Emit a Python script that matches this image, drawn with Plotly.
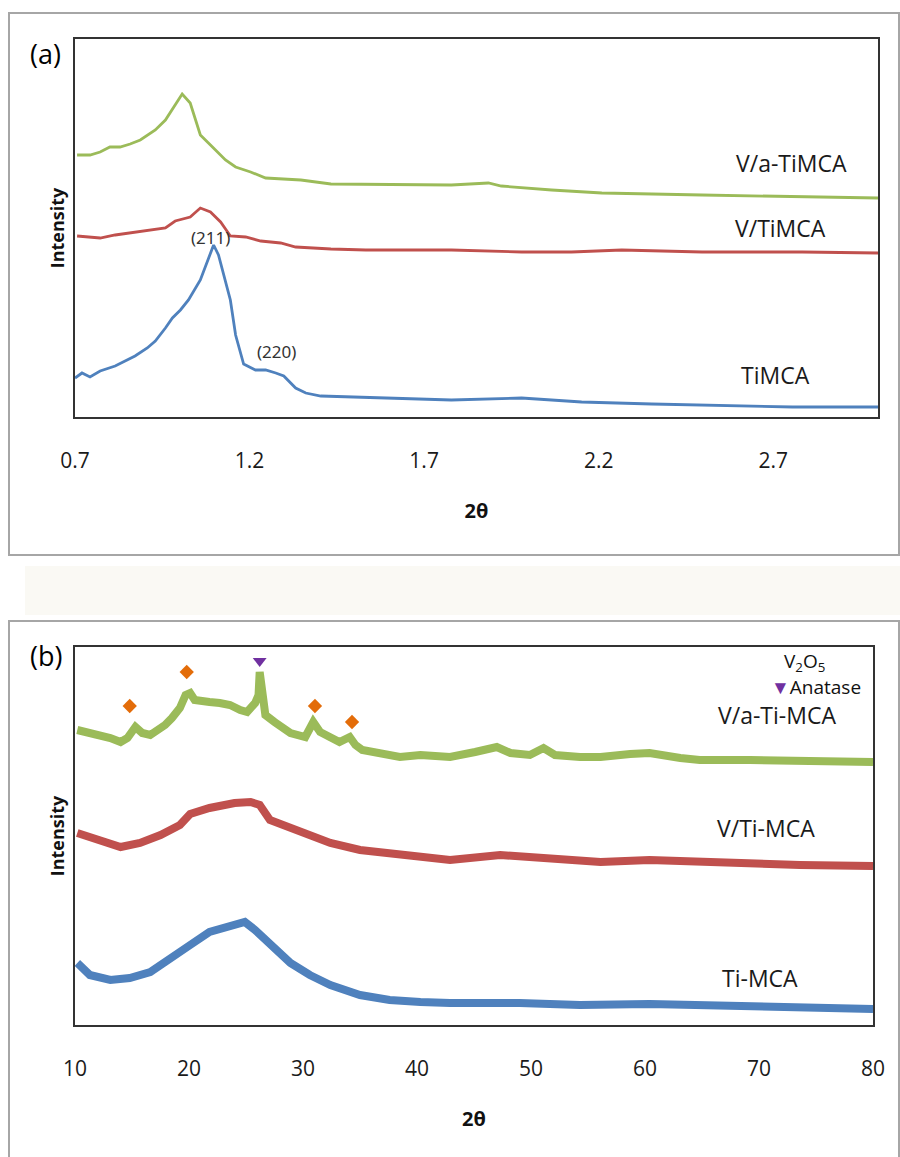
import plotly.graph_objects as go

# ---------------- Panel (a): low-angle XRD ----------------
a_green_x = [0.706, 0.743, 0.772, 0.80, 0.829, 0.858, 0.887, 0.93, 0.959, 0.987, 1.007, 1.03, 1.059, 1.088,
             1.131, 1.16, 1.203, 1.246, 1.347, 1.433, 1.634, 1.778, 1.884, 1.921, 2.065, 2.209, 2.496, 2.783, 3.0]
a_green_y = [262, 262, 265, 270, 270, 273, 277, 287, 297, 312, 323, 314, 282, 272,
             257, 250, 245, 239, 237, 233, 232, 232, 234, 231, 227, 224, 222, 220, 219]

a_red_x = [0.706, 0.743, 0.772, 0.815, 0.858, 0.916, 0.959, 0.987, 1.03, 1.059, 1.088, 1.117, 1.145, 1.189,
           1.232, 1.289, 1.332, 1.433, 1.533, 1.778, 1.979, 2.122, 2.266, 2.496, 2.783, 3.0]
a_red_y = [181, 180, 179, 182, 184, 187, 189, 196, 200, 209, 205, 195, 181, 180,
           176, 174, 170, 168, 167, 167, 165, 165, 167, 165, 165, 164]

a_blue_x = [0.7, 0.72, 0.743, 0.772, 0.815, 0.844, 0.872, 0.907, 0.93, 0.959, 0.979, 1.002, 1.025, 1.059,
            1.079, 1.097, 1.111, 1.131, 1.145, 1.16, 1.183, 1.217, 1.246, 1.275, 1.298, 1.332, 1.361,
            1.404, 1.49, 1.634, 1.778, 1.979, 2.151, 2.352, 2.496, 2.755, 3.0]
a_blue_y = [39, 44, 40, 46, 51, 56, 61, 69, 76, 89, 99, 107, 117, 137,
            155, 172, 162, 137, 117, 82, 53, 47, 47, 44, 41, 29, 24,
            21, 20, 19, 17, 19, 15, 13, 12, 10, 10]

a_ticks = [0.7, 1.2, 1.7, 2.2, 2.7]
a_labels = ["V/a-TiMCA", "V/TiMCA", "TiMCA"]
a_label_x = [2.752, 2.72, 2.706]
a_label_y = [254, 189, 42]
a_peaks = ["(211)", "(220)"]
a_peak_x = [1.088, 1.278]
a_peak_y = [179, 65]

# ---------------- Panel (b): wide-angle XRD ----------------
b_green_x = [10.2, 11.3, 12.2, 13.1, 14.0, 14.6, 15.3, 15.9, 16.6, 17.3, 17.9, 18.5, 19.2, 19.7, 20.1, 20.5,
             21.0, 21.8, 22.7, 23.6, 24.5, 25.1, 25.8, 26.1, 26.2, 26.4, 26.7, 27.5, 28.9, 30.2, 30.9, 31.5,
             32.4, 33.2, 34.1, 34.6, 35.2, 36.8, 38.5, 40.3, 42.9, 45.1, 47.0, 48.2, 49.9, 51.1, 52.1, 54.3,
             56.1, 58.7, 60.4, 63.1, 64.8, 69.2, 73.6, 77.1, 80.0]
b_green_y = [295, 292, 290, 287, 283, 287, 298, 292, 290, 295, 300, 307, 317, 330, 332, 325,
             325, 323, 322, 320, 315, 313, 322, 330, 353, 335, 310, 303, 292, 288, 303, 293,
             288, 283, 288, 280, 275, 271, 268, 270, 268, 273, 278, 272, 270, 277, 270, 268,
             268, 271, 272, 267, 265, 265, 265, 263, 263]

b_red_x = [10.2, 11.3, 12.2, 14.0, 15.7, 17.5, 19.2, 20.1, 21.8, 24.0, 25.4, 26.2, 27.1, 28.9, 30.6, 32.4,
           35.0, 38.5, 42.9, 47.3, 51.7, 56.1, 60.4, 64.8, 73.6, 80.0]
b_red_y = [192, 188, 185, 178, 182, 190, 200, 211, 217, 222, 223, 220, 205, 197, 190, 182,
           175, 170, 165, 170, 167, 163, 165, 163, 160, 159]

b_blue_x = [10.2, 11.3, 13.1, 14.8, 16.6, 18.3, 20.1, 21.8, 23.6, 24.9, 25.8, 27.1, 28.9, 30.6, 32.4, 35.0,
            37.6, 40.3, 42.9, 49.0, 54.3, 60.4, 64.8, 73.6, 80.0]
b_blue_y = [62, 50, 45, 47, 53, 65, 80, 93, 100, 103, 95, 80, 62, 50, 40, 30,
            25, 23, 22, 22, 20, 21, 20, 18, 16]

v2o5_x = [14.8, 19.8, 31.05, 34.3]
v2o5_y = [319, 353, 319, 303]
anatase_x = [26.2]
anatase_y = [364]

b_ticks = [10, 20, 30, 40, 50, 60, 70, 80]
b_labels = ["V/a-Ti-MCA", "V/Ti-MCA", "Ti-MCA"]
b_label_x = [71.58, 70.6, 70.1]
b_label_y = [310, 197, 47]

GREEN = "#9BBB59"
RED = "#C0504D"
BLUE = "#4F81BD"
ORANGE = "#E36C09"
PURPLE = "#7030A0"
FONT = "Open Sans"

W, H = 900, 1157


def px(v):
    return v / W


def py(v):
    return 1 - v / H


fig = go.Figure()

# panel a traces
for xs, ys, c in [(a_green_x, a_green_y, GREEN), (a_red_x, a_red_y, RED), (a_blue_x, a_blue_y, BLUE)]:
    fig.add_trace(go.Scatter(x=xs, y=ys, mode="lines", line=dict(color=c, width=2.8),
                             xaxis="x", yaxis="y", showlegend=False, hoverinfo="skip"))

# panel b traces
for xs, ys, c in [(b_green_x, b_green_y, GREEN), (b_red_x, b_red_y, RED), (b_blue_x, b_blue_y, BLUE)]:
    fig.add_trace(go.Scatter(x=xs, y=ys, mode="lines", line=dict(color=c, width=8),
                             xaxis="x2", yaxis="y2", showlegend=False, hoverinfo="skip"))

fig.add_trace(go.Scatter(x=v2o5_x, y=v2o5_y, mode="markers",
                         marker=dict(symbol="diamond", color=ORANGE, size=11),
                         xaxis="x2", yaxis="y2", showlegend=False, hoverinfo="skip"))
fig.add_trace(go.Scatter(x=anatase_x, y=anatase_y, mode="markers",
                         marker=dict(symbol="triangle-down", color=PURPLE, size=12),
                         xaxis="x2", yaxis="y2", showlegend=False, hoverinfo="skip"))

axis_common = dict(showgrid=False, zeroline=False, showline=True, linecolor="#333333", linewidth=1.5,
                   mirror=True, ticks="", automargin=False,
                   tickfont=dict(family=FONT, size=21, color="#1a1a1a"))
xtitle = dict(text="<b>2θ</b>", font=dict(family=FONT, size=20, color="#111"), standoff=31)
ytitle = dict(text="<b>Intensity</b>", font=dict(family=FONT, size=18, color="#111"), standoff=4)

fig.update_layout(
    width=W, height=H, margin=dict(l=0, r=0, t=0, b=0),
    paper_bgcolor="white", plot_bgcolor="white",
    xaxis=dict(domain=[px(75), px(878)], range=[0.7, 3.0], tickvals=a_ticks,
               ticktext=[str(t) for t in a_ticks], anchor="y", ticklabelstandoff=24,
               title=xtitle, **axis_common),
    yaxis=dict(domain=[py(417), py(39)], range=[0, 378], showticklabels=False, anchor="x",
               title=ytitle, **axis_common),
    xaxis2=dict(domain=[px(75), px(873)], range=[10, 80], tickvals=b_ticks,
                ticktext=[str(t) for t in b_ticks], anchor="y2", ticklabelstandoff=24,
                title=xtitle, **axis_common),
    yaxis2=dict(domain=[py(1025), py(647)], range=[0, 378], showticklabels=False, anchor="x2",
                title=ytitle, **axis_common),
)

shapes = [
    # outer frames
    dict(type="rect", xref="paper", yref="paper", x0=px(9), x1=px(899), y0=py(555), y1=py(13),
         line=dict(color="#A6A6A6", width=2), fillcolor="rgba(0,0,0,0)", layer="below"),
    dict(type="rect", xref="paper", yref="paper", x0=px(9), x1=px(899), y0=py(1160), y1=py(621),
         line=dict(color="#A6A6A6", width=2), fillcolor="rgba(0,0,0,0)", layer="below"),
    # faint watermark band between panels
    dict(type="rect", xref="paper", yref="paper", x0=px(25), x1=px(900), y0=py(615), y1=py(566),
         line=dict(width=0), fillcolor="rgba(230,226,205,0.22)", layer="below"),
]
fig.update_layout(shapes=shapes)

ann = []
lab_font = dict(family=FONT, size=23, color="#1a1a1a")
ann.append(dict(text="(a)", xref="paper", yref="paper", x=px(45), y=py(53), showarrow=False,
                xanchor="center", yanchor="middle", font=dict(family=FONT, size=27, color="black")))
ann.append(dict(text="(b)", xref="paper", yref="paper", x=px(46), y=py(655), showarrow=False,
                xanchor="center", yanchor="middle", font=dict(family=FONT, size=27, color="black")))
for t, xv, yv in zip(a_labels, a_label_x, a_label_y):
    ann.append(dict(text=t, xref="x", yref="y", x=xv, y=yv, showarrow=False, xanchor="center",
                    yanchor="middle", font=lab_font))
for t, xv, yv in zip(a_peaks, a_peak_x, a_peak_y):
    ann.append(dict(text=t, xref="x", yref="y", x=xv, y=yv, showarrow=False, xanchor="center",
                    yanchor="middle", font=dict(family="Noto Sans", size=17, color="#333")))
for t, xv, yv in zip(b_labels, b_label_x, b_label_y):
    ann.append(dict(text=t, xref="x2", yref="y2", x=xv, y=yv, showarrow=False, xanchor="center",
                    yanchor="middle", font=lab_font))
# legend text for markers
ann.append(dict(text="V<sub>2</sub>O<sub>5</sub>", xref="x2", yref="y2", x=74.0, y=363, showarrow=False,
                xanchor="center", yanchor="middle", font=dict(family=FONT, size=19, color="#111")))
ann.append(dict(text="<span style='color:#7030A0'>▼</span>Anatase", xref="x2", yref="y2", x=75.0, y=338,
                showarrow=False, xanchor="center", yanchor="middle", font=dict(family=FONT, size=19, color="#111")))
fig.update_layout(annotations=ann)

fig.write_html("out.html")
